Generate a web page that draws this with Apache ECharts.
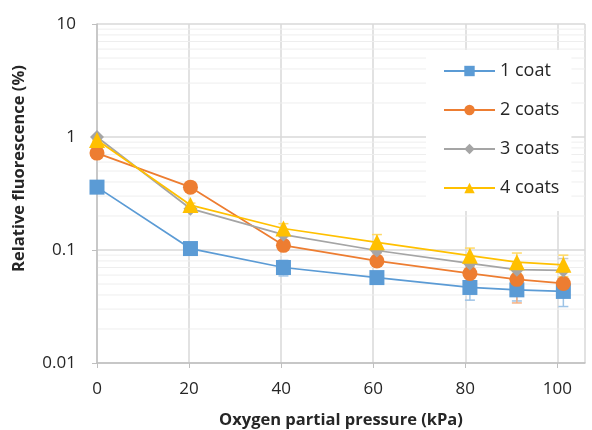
<!DOCTYPE html>
<html>
<head>
	<meta charset="utf-8">
	<title>Relative fluorescence vs oxygen partial pressure</title>
	<style type="text/css">
		html, body { margin: 0; padding: 0; background: #fff; }
		#chart { width: 592px; height: 430px; }
	</style>
</head>
<body>
	<div id="chart"></div>
	<script src="https://cdn.jsdelivr.net/npm/echarts@6.0.0/dist/echarts.min.js"></script>
	<script type="text/javascript">
	// oxygen partial pressure (kPa)
	const PRESSURE = [0, 20.3, 40.5, 60.8, 81.0, 91.2, 101.3];

	const NAMES = ['1 coat', '2 coats', '3 coats', '4 coats'];
	const COAT1 = [0.36, 0.103, 0.070, 0.057, 0.0466, 0.0444, 0.043];
	const COAT2 = [0.72, 0.36, 0.110, 0.080, 0.062, 0.055, 0.0506];
	const COAT3 = [1.0, 0.232, 0.137, 0.099, 0.076, 0.067, 0.066];
	const COAT4 = [0.94, 0.25, 0.155, 0.117, 0.089, 0.078, 0.074];

	// error bar half-widths
	const ERR1 = [0.004, 0.005, 0.011, 0.006, 0.0106, 0.009, 0.0114];
	const ERR2 = [0.02, 0.01, 0.006, 0.005, 0.005, 0.021, 0.006];
	const ERR3 = [0.01, 0.01, 0.006, 0.005, 0.005, 0.006, 0.018];
	const ERR4 = [0.02, 0.01, 0.016, 0.020, 0.015, 0.016, 0.016];

	const MINOR_GRID = [0.02, 0.03, 0.04, 0.05, 0.06, 0.07, 0.08, 0.09,
		0.2, 0.3, 0.4, 0.5, 0.6, 0.7, 0.8, 0.9,
		2, 3, 4, 5, 6, 7, 8, 9];

	const COLORS = ['#5b9bd5', '#ed7d31', '#a5a5a5', '#ffc000'];
	const ERR_COLORS = ['#9dc3e6', '#f4b183', '#c9c9c9', '#ffd966'];
	const SYMBOLS = ['rect', 'circle', 'diamond', 'triangle'];
	const SYMBOL_SIZES = [15, 15, 14, 16];

	const FONT = '"Open Sans", sans-serif';

	function pairs(ys) {
		return PRESSURE.map((x, i) => [x, ys[i]]);
	}

	function errRows(ys, errs) {
		return PRESSURE.map((x, i) => [x, ys[i] - errs[i], ys[i] + errs[i]]);
	}

	function errorSeries(ys, errs, color) {
		return {
			type: 'custom',
			silent: true,
			z: 1,
			data: errRows(ys, errs),
			encode: { x: 0, y: [1, 2] },
			renderItem: function (params, api) {
				let x = api.value(0);
				let lo = api.coord([x, api.value(1)]);
				let hi = api.coord([x, api.value(2)]);
				let w = 5;
				let st = { stroke: color, lineWidth: 1.5 };
				return {
					type: 'group',
					children: [
						{ type: 'line', shape: { x1: lo[0], y1: lo[1], x2: hi[0], y2: hi[1] }, style: st },
						{ type: 'line', shape: { x1: lo[0] - w, y1: lo[1], x2: lo[0] + w, y2: lo[1] }, style: st },
						{ type: 'line', shape: { x1: hi[0] - w, y1: hi[1], x2: hi[0] + w, y2: hi[1] }, style: st }
					]
				};
			}
		};
	}

	let chart = echarts.init(document.getElementById('chart'));

	// minor (2..9) horizontal gridlines of the log axis
	let series = [{
		type: 'custom',
		silent: true,
		z: 0,
		data: MINOR_GRID.map(v => [0, v]),
		encode: { x: 0, y: 1 },
		renderItem: function (params, api) {
			let p = api.coord([0, api.value(1)]);
			let cs = params.coordSys;
			return {
				type: 'line',
				shape: { x1: cs.x, y1: p[1], x2: cs.x + cs.width, y2: p[1] },
				style: { stroke: '#eeeeee', lineWidth: 1 }
			};
		}
	}];

	[[COAT1, ERR1], [COAT2, ERR2], [COAT3, ERR3], [COAT4, ERR4]].forEach((d, i) => {
		series.push(errorSeries(d[0], d[1], ERR_COLORS[i]));
	});

	[COAT1, COAT2, COAT3, COAT4].forEach((ys, i) => {
		series.push({
			name: NAMES[i],
			type: 'line',
			z: 3,
			data: pairs(ys),
			symbol: SYMBOLS[i],
			symbolSize: SYMBOL_SIZES[i],
			showAllSymbol: true,
			color: COLORS[i],
			lineStyle: { width: 1.75, color: COLORS[i] },
			itemStyle: { color: COLORS[i] }
		});
	});

	let option = {
		animation: false,
		textStyle: { fontFamily: FONT },
		grid: { left: 97, right: 7, top: 24, bottom: 67, containLabel: false, outerBoundsMode: 'none' },
		legend: {
			data: NAMES,
			orient: 'vertical',
			left: 426,
			top: 50,
			padding: [12, 12, 14, 17],
			itemGap: 21,
			itemWidth: 51,
			itemHeight: 13,
			backgroundColor: '#ffffff',
			textStyle: { fontFamily: FONT, fontSize: 18, lineHeight: 18, color: '#262626' }
		},
		xAxis: {
			type: 'value',
			min: 0,
			max: 106,
			interval: 20,
			name: 'Oxygen partial pressure (kPa)',
			nameLocation: 'middle',
			nameGap: 49,
			nameTextStyle: { fontFamily: FONT, fontSize: 16.5, fontWeight: 'bold', color: '#262626' },
			axisLine: { lineStyle: { color: '#bfbfbf', width: 1.5 } },
			axisTick: { show: true, length: 5, lineStyle: { color: '#bfbfbf' } },
			axisLabel: { fontFamily: FONT, fontSize: 17, color: '#262626', margin: 18, showMaxLabel: false },
			splitLine: { show: true, lineStyle: { color: '#d9d9d9', width: 1.5 } }
		},
		yAxis: {
			type: 'log',
			logBase: 10,
			min: 0.01,
			max: 10,
			name: 'Relative fluorescence (%)',
			nameLocation: 'middle',
			nameGap: 69,
			nameRotate: 90,
			nameTextStyle: { fontFamily: FONT, fontSize: 16.5, fontWeight: 'bold', color: '#262626', padding: [0, 0, 0, 50] },
			axisLine: { show: true, lineStyle: { color: '#bfbfbf', width: 1.5 } },
			axisTick: { show: true, length: 5, lineStyle: { color: '#bfbfbf' } },
			axisLabel: { fontFamily: FONT, fontSize: 17, color: '#262626', margin: 21 },
			splitLine: { show: true, lineStyle: { color: '#d9d9d9', width: 1.5 } }
		},
		series: series
	};

	chart.setOption(option);
	</script>
</body>
</html>
